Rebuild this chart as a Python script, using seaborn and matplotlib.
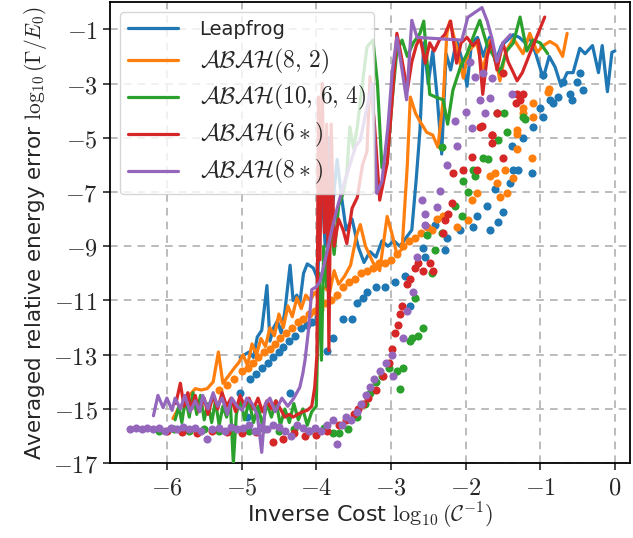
import numpy as np
import seaborn as sns
import matplotlib.pyplot as plt
from matplotlib.ticker import FixedLocator, FuncFormatter

# --- data (x = log10(1/C), y = log10(Gamma/E0)) ---
methods = ['Leapfrog', r'$\mathcal{ABAH}(8,\,2)$', r'$\mathcal{ABAH}(10,\,6,\,4)$',
           r'$\mathcal{ABAH}(6\ast)$', r'$\mathcal{ABAH}(8\ast)$']

lf_line = [(-5.02, -13.1), (-4.96, -13.0), (-4.90, -12.9), (-4.84, -13.1), (-4.79, -12.35),
           (-4.73, -12.1), (-4.66, -10.45), (-4.62, -12.5), (-4.57, -12.0), (-4.52, -11.75),
           (-4.47, -12.2), (-4.42, -11.4), (-4.35, -9.7), (-4.31, -11.0), (-4.26, -10.8),
           (-4.22, -11.1), (-4.17, -10.0), (-4.12, -9.65), (-4.04, -9.8), (-3.98, -10.2),
           (-3.93, -6.5), (-3.88, -9.0), (-3.83, -5.0), (-3.78, -7.5), (-3.72, -5.8),
           (-3.66, -7.2), (-3.60, -8.4), (-3.52, -8.0), (-3.44, -9.0), (-3.36, -9.6),
           (-3.28, -9.2), (-3.20, -9.4), (-3.12, -8.8), (-3.04, -9.0), (-2.96, -8.8),
           (-2.88, -9.0), (-2.80, -8.7), (-2.72, -8.4), (-2.66, -6.5), (-2.61, -4.7),
           (-2.56, -1.5), (-2.50, -3.0), (-2.44, -1.8), (-2.38, -3.5), (-2.32, -5.6),
           (-2.26, -1.9), (-2.20, -2.5), (-2.12, -1.4), (-2.04, -2.2), (-1.98, -3.1),
           (-1.92, -1.5), (-1.84, -1.3), (-1.76, -2.0), (-1.68, -1.3), (-1.60, -2.2),
           (-1.52, -1.6), (-1.44, -1.4), (-1.36, -1.2), (-1.28, -1.3), (-1.20, -1.5),
           (-1.14, -1.3), (-1.06, -1.9), (-0.96, -2.8), (-0.88, -2.0), (-0.80, -2.4),
           (-0.72, -3.1), (-0.64, -2.6), (-0.56, -2.6), (-0.47, -1.7), (-0.40, -1.9),
           (-0.30, -1.6), (-0.22, -2.6), (-0.17, -1.6), (-0.10, -3.3), (-0.04, -1.85),
           (0.00, -1.8)]

ab82_line = [(-5.92, -15.35), (-5.85, -15.0), (-5.78, -14.8), (-5.70, -14.5), (-5.62, -14.25),
             (-5.54, -14.3), (-5.46, -14.25), (-5.38, -14.0), (-5.31, -12.9), (-5.25, -14.05),
             (-5.18, -13.8), (-5.10, -13.5), (-5.04, -13.3), (-4.98, -13.0), (-4.92, -13.4),
             (-4.86, -12.6), (-4.80, -13.0), (-4.74, -12.4), (-4.68, -12.7), (-4.62, -12.0),
             (-4.56, -12.3), (-4.50, -11.5), (-4.44, -12.0), (-4.38, -11.2), (-4.32, -11.6),
             (-4.26, -10.9), (-4.20, -11.3), (-4.14, -10.8), (-4.08, -11.0), (-4.02, -10.7),
             (-3.96, -10.9), (-3.90, -10.5), (-3.82, -10.7), (-3.76, -9.9), (-3.70, -10.4),
             (-3.62, -10.1), (-3.54, -9.7), (-3.46, -8.6), (-3.41, -8.2), (-3.34, -9.0),
             (-3.24, -9.6), (-3.15, -9.9), (-3.05, -7.9), (-2.98, -8.6), (-2.92, -9.3),
             (-2.85, -9.1), (-2.78, -6.0), (-2.74, -3.5), (-2.67, -4.1), (-2.61, -4.4),
             (-2.52, -4.8), (-2.44, -4.9), (-2.37, -5.35), (-2.30, -3.6), (-2.25, -1.15),
             (-2.21, -0.7), (-2.12, -1.65), (-2.03, -2.8), (-1.96, -1.8), (-1.85, -1.5),
             (-1.77, -2.5), (-1.67, -1.4), (-1.60, -2.0), (-1.54, -2.9), (-1.46, -1.8),
             (-1.36, -1.35), (-1.23, -1.9), (-1.14, -1.15), (-1.04, -1.85), (-0.96, -1.6),
             (-0.87, -1.45), (-0.78, -1.6), (-0.70, -2.0), (-0.64, -1.15)]

ab1064_line = [(-5.89, -15.4), (-5.84, -14.9), (-5.80, -15.5), (-5.75, -14.6), (-5.70, -15.3),
               (-5.65, -14.4), (-5.60, -15.2), (-5.55, -14.5), (-5.50, -15.4), (-5.45, -14.8),
               (-5.40, -15.5), (-5.35, -14.7), (-5.30, -15.6), (-5.25, -14.9), (-5.20, -15.3),
               (-5.15, -14.8), (-5.11, -17.0), (-5.07, -15.2), (-5.02, -14.6), (-4.96, -15.4),
               (-4.90, -14.7), (-4.84, -15.5), (-4.78, -14.9), (-4.72, -15.6), (-4.66, -14.8),
               (-4.60, -15.3), (-4.54, -14.7), (-4.48, -15.6), (-4.42, -15.0), (-4.36, -15.5),
               (-4.30, -14.8), (-4.24, -15.4), (-4.18, -15.0), (-4.12, -15.6), (-4.06, -15.1),
               (-4.00, -14.9), (-3.96, -10.0), (-3.93, -13.2), (-3.90, -9.0), (-3.86, -10.5),
               (-3.82, -8.0), (-3.76, -9.3), (-3.70, -7.5), (-3.64, -7.05), (-3.59, -6.3),
               (-3.55, -4.6), (-3.50, -5.4), (-3.45, -4.6), (-3.39, -3.2), (-3.32, -1.65),
               (-3.24, -1.4), (-3.18, -3.0), (-3.12, -6.1), (-3.05, -5.95), (-2.98, -3.5),
               (-2.92, -1.8), (-2.85, -1.4), (-2.78, -2.0), (-2.70, -1.5), (-2.61, -1.15),
               (-2.56, -0.7), (-2.48, -3.4), (-2.40, -3.5), (-2.30, -3.6), (-2.24, -4.5),
               (-2.17, -3.25), (-2.07, -2.4), (-1.98, -1.9), (-1.90, -1.3), (-1.81, -0.67),
               (-1.71, -1.6), (-1.62, -2.0), (-1.54, -2.6), (-1.45, -1.8), (-1.36, -1.5),
               (-1.27, -0.55), (-1.18, -1.8), (-1.10, -1.4), (-1.00, -1.5), (-0.90, -1.9)]

ab6s_line = [(-5.88, -14.8), (-5.82, -14.05), (-5.77, -14.9), (-5.72, -14.4), (-5.67, -15.0),
             (-5.62, -14.5), (-5.57, -15.1), (-5.50, -14.6), (-5.45, -15.2), (-5.38, -14.5),
             (-5.32, -15.0), (-5.26, -14.4), (-5.20, -14.9), (-5.14, -14.6), (-5.08, -15.1),
             (-5.02, -14.5), (-4.96, -14.9), (-4.90, -14.6), (-4.84, -15.0), (-4.78, -14.6),
             (-4.72, -15.1), (-4.66, -14.7), (-4.60, -15.0), (-4.54, -14.7), (-4.48, -15.0),
             (-4.42, -15.3), (-4.36, -15.2), (-4.31, -15.3), (-4.25, -15.2), (-4.18, -15.1),
             (-4.12, -15.05), (-4.06, -14.9), (-4.02, -14.2), (-3.99, -13.0), (-3.97, -3.5),
             (-3.95, -9.5), (-3.92, -3.0), (-3.89, -8.5), (-3.86, -4.5), (-3.83, -12.85),
             (-3.80, -4.5), (-3.76, -9.0), (-3.70, -8.0), (-3.64, -8.4), (-3.59, -8.9),
             (-3.52, -7.6), (-3.45, -7.2), (-3.38, -6.0), (-3.32, -5.5), (-3.28, -2.75),
             (-3.22, -4.5), (-3.15, -7.3), (-3.05, -5.95), (-2.98, -3.5), (-2.92, -1.15),
             (-2.86, -2.0), (-2.78, -3.25), (-2.72, -2.2), (-2.66, -1.6), (-2.61, -1.3),
             (-2.54, -2.25), (-2.48, -1.5), (-2.42, -1.8), (-2.35, -1.4), (-2.28, -1.2),
             (-2.20, -0.7), (-2.12, -2.25), (-2.06, -1.5), (-1.98, -1.3), (-1.90, -1.6),
             (-1.83, -1.4), (-1.77, -3.4), (-1.71, -2.0), (-1.65, -1.4), (-1.58, -2.5),
             (-1.50, -1.5), (-1.43, -2.2), (-1.36, -2.6), (-1.31, -2.9), (-1.24, -2.6),
             (-1.14, -1.9), (-1.05, -1.3), (-0.94, -0.55)]

ab8s_line = [(-6.18, -15.25), (-6.12, -14.5), (-6.05, -14.95), (-6.00, -14.6), (-5.93, -15.05),
             (-5.89, -14.6), (-5.82, -15.0), (-5.76, -14.5), (-5.69, -15.1), (-5.62, -14.7),
             (-5.56, -15.1), (-5.52, -14.5), (-5.45, -15.0), (-5.38, -14.4), (-5.32, -14.9),
             (-5.26, -14.6), (-5.19, -15.2), (-5.13, -14.6), (-5.06, -14.9), (-4.99, -15.05),
             (-4.93, -14.6), (-4.86, -14.8), (-4.79, -15.2), (-4.73, -16.6), (-4.68, -14.8),
             (-4.62, -14.6), (-4.55, -15.1), (-4.46, -14.6), (-4.38, -14.9), (-4.30, -14.6),
             (-4.22, -14.2), (-4.18, -13.7), (-4.15, -13.2), (-4.10, -12.0), (-4.06, -10.6),
             (-4.00, -10.5), (-3.95, -10.3), (-3.88, -9.5), (-3.80, -8.5), (-3.72, -7.6),
             (-3.64, -6.8), (-3.55, -6.0), (-3.47, -5.3), (-3.41, -5.1), (-3.33, -4.0),
             (-3.25, -3.0), (-3.19, -7.05), (-3.12, -6.6), (-3.04, -4.6), (-2.98, -2.5),
             (-2.92, -1.3), (-2.85, -2.5), (-2.79, -3.6), (-2.72, -0.67), (-2.65, -1.3),
             (-2.35, -1.35), (-2.05, -1.4), (-1.97, -0.56), (-1.78, -0.2), (-1.71, -0.7),
             (-1.65, -1.3), (-1.58, -2.2), (-1.50, -1.5), (-1.40, -1.2)]

lf_dots = [(-5.02, -14.4), (-4.93, -15.3), (-4.89, -13.9), (-4.80, -13.7), (-4.72, -13.5),
           (-4.65, -13.3), (-4.58, -13.1), (-4.50, -12.9), (-4.44, -12.7), (-4.35, -14.4),
           (-4.36, -12.5), (-4.28, -12.3), (-4.20, -12.0), (-4.12, -11.9), (-4.05, -11.8),
           (-3.98, -11.6), (-3.86, -12.85), (-3.77, -12.4), (-3.64, -11.7), (-3.52, -11.7),
           (-3.45, -11.1), (-3.38, -10.9), (-3.32, -10.7), (-3.20, -10.5), (-3.08, -10.5),
           (-2.95, -10.3), (-2.81, -10.1), (-2.74, -11.2), (-2.57, -9.05), (-2.54, -9.4),
           (-2.41, -8.2), (-2.28, -9.15), (-2.25, -8.7), (-2.07, -8.4), (-1.90, -8.3),
           (-1.85, -7.9), (-1.71, -7.5), (-1.67, -8.4), (-1.56, -8.1), (-1.50, -7.75),
           (-1.60, -6.9), (-1.40, -6.65), (-1.36, -6.2), (-1.30, -6.2), (-1.11, -6.3),
           (-1.38, -5.3), (-1.23, -5.0), (-1.10, -4.6), (-1.00, -3.9), (-0.96, -4.25),
           (-0.96, -2.7), (-0.87, -3.6), (-0.83, -3.7), (-0.76, -3.5), (-0.70, -2.95),
           (-0.60, -3.4), (-0.58, -3.6), (-0.51, -2.95), (-0.47, -2.6), (-0.43, -3.25)]

ab82_dots = [(-5.30, -14.3), (-5.20, -14.1), (-5.10, -13.9), (-5.00, -13.6), (-4.92, -13.5),
             (-4.85, -13.3), (-4.78, -13.1), (-4.70, -12.9), (-4.62, -12.8), (-4.55, -12.6),
             (-4.48, -12.4), (-4.40, -12.2), (-4.33, -12.0), (-4.25, -11.8), (-4.18, -11.7),
             (-4.10, -11.5), (-4.02, -11.4), (-3.95, -11.3), (-3.88, -11.1), (-3.80, -11.0),
             (-3.72, -10.8), (-3.64, -10.5), (-3.56, -10.3), (-3.48, -10.2), (-3.40, -10.0),
             (-3.32, -9.9), (-3.24, -9.8), (-3.16, -9.6), (-3.08, -9.6), (-3.00, -9.5),
             (-2.92, -9.3), (-2.84, -9.0), (-2.76, -8.8), (-2.68, -8.7), (-2.60, -8.5),
             (-2.52, -8.3), (-2.45, -8.4), (-2.38, -8.0), (-2.30, -7.9), (-2.12, -8.3),
             (-1.97, -8.05), (-1.92, -7.3), (-1.85, -7.05), (-1.54, -7.2), (-1.45, -7.05),
             (-1.67, -6.4), (-1.58, -6.65), (-1.60, -6.3), (-1.47, -6.2), (-1.36, -6.5),
             (-1.11, -5.75), (-1.31, -5.4), (-1.31, -4.85), (-1.31, -4.7), (-1.23, -4.1),
             (-1.10, -4.25), (-1.23, -3.9), (-1.10, -3.7), (-0.90, -3.3), (-0.88, -3.2)]

ab1064_dots = [(-6.10, -15.8), (-5.90, -15.75), (-5.70, -15.8), (-5.50, -15.75), (-5.30, -15.8),
               (-5.10, -15.7), (-4.90, -15.8), (-4.70, -15.75), (-4.50, -15.8), (-4.30, -15.75),
               (-4.10, -15.8), (-3.90, -15.7), (-3.77, -15.9), (-3.70, -15.9), (-3.57, -15.75),
               (-3.45, -15.3), (-3.35, -14.8), (-3.28, -14.4), (-3.20, -14.0), (-3.12, -13.8),
               (-3.02, -13.5), (-2.92, -13.6), (-2.84, -13.5), (-2.88, -14.25), (-2.74, -12.5),
               (-2.72, -12.4), (-2.64, -12.3), (-2.57, -12.0), (-2.68, -10.9), (-2.45, -10.0),
               (-2.52, -8.6), (-2.41, -9.15), (-2.32, -8.5), (-2.05, -7.9), (-2.14, -7.5),
               (-1.97, -7.0), (-2.03, -6.6), (-1.90, -6.2), (-1.88, -6.4), (-1.77, -5.75),
               (-1.70, -5.8), (-2.32, -5.35), (-1.56, -5.1), (-1.45, -4.8), (-1.58, -4.1),
               (-1.48, -4.1), (-1.23, -4.25), (-1.20, -4.3)]

ab6s_dots = [(-6.00, -15.8), (-5.80, -15.85), (-5.60, -15.9), (-5.40, -15.8), (-5.20, -15.85),
             (-5.00, -15.9), (-4.80, -15.85), (-4.58, -16.2), (-4.45, -16.1), (-4.30, -15.9),
             (-4.15, -16.0), (-4.00, -15.95), (-3.85, -15.8), (-3.70, -15.6), (-3.60, -15.4),
             (-3.50, -15.2), (-3.44, -15.0), (-3.38, -14.8), (-3.30, -14.6), (-3.20, -14.3),
             (-3.10, -13.8), (-3.02, -13.3), (-2.98, -12.8), (-2.95, -12.2), (-2.90, -11.9),
             (-2.88, -11.5), (-2.85, -11.2), (-2.78, -10.4), (-2.75, -10.2), (-2.68, -9.8),
             (-2.64, -9.6), (-2.57, -9.9), (-2.48, -9.6), (-2.44, -9.9), (-2.30, -8.5),
             (-2.28, -8.05), (-2.23, -7.8), (-2.18, -7.4), (-2.17, -6.3), (-2.03, -6.2),
             (-1.85, -6.2), (-1.92, -5.7), (-1.50, -5.75), (-1.65, -5.2), (-1.65, -4.9),
             (-1.81, -4.6), (-1.78, -4.55), (-1.65, -4.9), (-1.58, -4.1), (-1.33, -3.7),
             (-1.27, -3.6), (-1.31, -3.4), (-1.23, -3.4), (-1.50, -2.6)]

ab8s_dots = [(-6.50, -15.75), (-6.42, -15.7), (-6.34, -15.75), (-6.26, -15.7), (-6.18, -15.75),
             (-6.10, -15.7), (-6.02, -15.8), (-5.94, -15.7), (-5.86, -15.75), (-5.78, -15.65),
             (-5.70, -15.75), (-5.62, -15.7), (-5.54, -15.8), (-5.46, -16.1), (-5.40, -15.75),
             (-5.30, -15.7), (-5.22, -15.8), (-5.14, -15.65), (-5.06, -15.75), (-4.98, -15.7),
             (-4.90, -15.6), (-4.82, -15.8), (-4.74, -15.65), (-4.66, -15.75), (-4.58, -15.6),
             (-4.50, -15.65), (-4.42, -15.8), (-4.34, -16.0), (-4.26, -15.6), (-4.18, -15.7),
             (-4.10, -15.8), (-4.02, -15.7), (-3.94, -15.8), (-3.86, -15.6), (-3.78, -15.4),
             (-3.72, -16.3), (-3.66, -15.6), (-3.60, -15.3), (-3.54, -15.4), (-3.46, -15.1),
             (-3.40, -14.8), (-3.34, -14.5), (-3.28, -14.2), (-3.22, -13.9), (-3.14, -13.6),
             (-3.06, -13.3), (-2.99, -13.0), (-2.97, -13.8), (-2.84, -12.4), (-2.79, -11.4),
             (-2.70, -10.7), (-2.65, -9.4), (-2.54, -8.2), (-2.54, -7.8), (-2.58, -7.3),
             (-2.38, -7.55), (-2.34, -6.95), (-2.25, -6.0), (-2.12, -5.3), (-2.14, -4.4),
             (-2.00, -4.05), (-1.91, -4.65), (-1.74, -4.1), (-1.81, -3.6), (-1.67, -3.55),
             (-1.38, -3.4), (-1.94, -2.2), (-1.87, -2.75), (-1.77, -2.6), (-1.65, -2.8)]

lines = [lf_line, ab82_line, ab1064_line, ab6s_line, ab8s_line]
dots = [lf_dots, ab82_dots, ab1064_dots, ab6s_dots, ab8s_dots]

# --- style ---
sns.set_style('ticks')
plt.rcParams['font.family'] = ['DejaVu Sans']
plt.rcParams['mathtext.fontset'] = 'cm'
colors = sns.color_palette('tab10', 5)

fig, ax = plt.subplots(figsize=(6.33, 5.38), dpi=100)
fig.subplots_adjust(left=0.174, right=0.995, top=0.996, bottom=0.139)

for name, line, pts, c in zip(methods, lines, dots, colors):
    lx, ly = np.array(line).T
    sns.lineplot(x=lx, y=ly, sort=False, estimator=None, color=c, lw=2.3,
                 label=name, ax=ax, zorder=3)
    dx, dy = np.array(pts).T
    sns.scatterplot(x=dx, y=dy, color=c, s=34, linewidth=0, ax=ax,
                    legend=False, zorder=3)

ax.set_xlim(-6.76, 0.2)
ax.set_ylim(-17, 0)
ax.xaxis.set_major_locator(FixedLocator(range(-6, 1)))
ax.yaxis.set_major_locator(FixedLocator(range(-17, 0, 2)))
ax.xaxis.set_major_formatter(FuncFormatter(lambda v, p: rf'${int(v)}$'))
ax.yaxis.set_major_formatter(FuncFormatter(lambda v, p: rf'${int(v)}$'))
ax.tick_params(labelsize=17.5, length=5, width=1.2, direction='out', pad=4)
ax.grid(True, ls=(0, (5, 4)), color='#aaaaaa', lw=1.1)
for s in ax.spines.values():
    s.set_linewidth(1.3)
    s.set_color('black')

ax.set_xlabel(r'Inverse Cost $\log_{10}(\mathcal{C}^{-1})$', fontsize=16, labelpad=1)
ax.set_ylabel(r'Averaged relative energy error $\log_{10}(\Gamma/E_0)$', fontsize=15.5, labelpad=3)
leg = ax.legend(loc='upper left', fontsize=14, handlelength=2.6, handletextpad=1.1,
                labelspacing=0.4, framealpha=0.8, borderaxespad=0.5)
for t in leg.get_texts()[1:]:
    t.set_fontsize(17)

fig.savefig('out.png', dpi=100)
